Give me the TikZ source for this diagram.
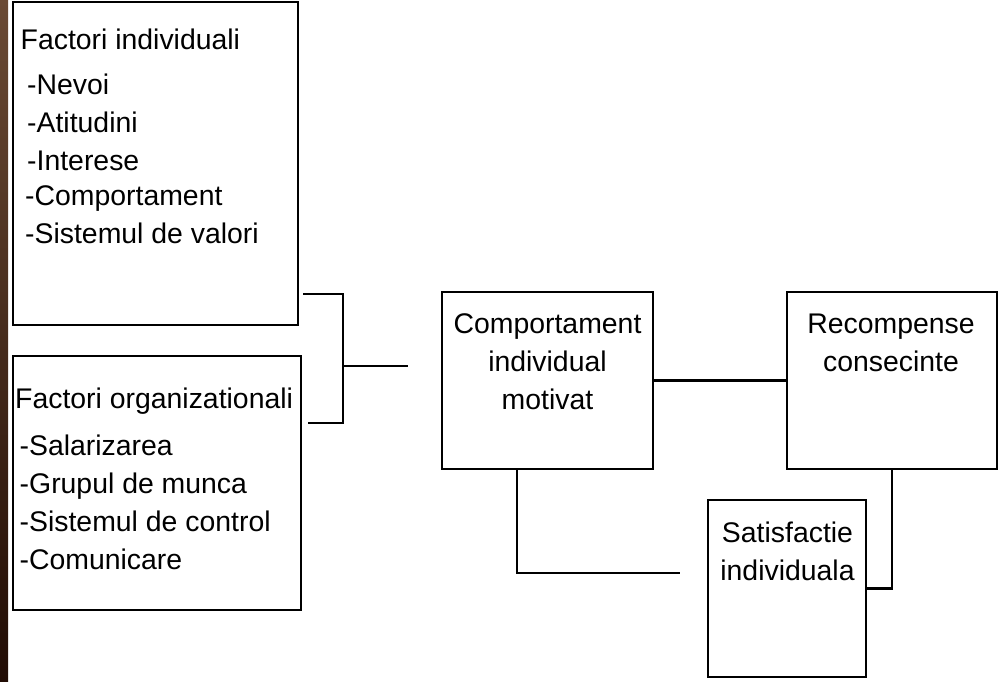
\documentclass[tikz,border=0pt]{standalone}
\usepackage{fontspec}
\setmainfont{Liberation Sans}
\usetikzlibrary{calc}

\definecolor{woodlight}{RGB}{106,74,52}
\definecolor{wooddark}{RGB}{33,12,4}

\tikzset{
  blok/.style = {draw, line width = 2.2pt, inner sep = 0pt},
  txt/.style = {inner sep = 0pt, font = \fontsize{28.4}{38}\selectfont},
  link/.style = {line width = 2.2pt}
}

\begin{document}
\begin{tikzpicture}[x = 1pt, y = -1pt]
  \useasboundingbox (0, 0) rectangle (999, 682);
  \shade[top color = woodlight, middle color = wooddark, bottom color = wooddark]
  (0, 0) rectangle (8, 682);

  % boxes
  \node[blok, minimum width = 285, minimum height = 323] (indiv) at (155.5, 163.5) {};
  \node[blok, minimum width = 288, minimum height = 254] (organiz) at (157, 483) {};
  \node[blok, minimum width = 211, minimum height = 177] (motiv) at (547.5, 380.5) {};
  \node[blok, minimum width = 210, minimum height = 177] (recomp) at (892, 380.5) {};
  \node[blok, minimum width = 158, minimum height = 177] (satisf) at (787, 588.5) {};

  % texts
  \node[txt, anchor = north west, align = left] (indivtext) at (20.5, 28.5)
  {Factori individuali\\[7pt]
    \hspace*{6.5pt}-Nevoi\\
    \hspace*{6.5pt}-Atitudini\\
    \hspace*{6.5pt}-Interese\\[-3pt]
    \hspace*{4.5pt}-Comportament\\
    \hspace*{4.5pt}-Sistemul de valori};
  \node[txt, anchor = north west, align = left] (organiztext) at (15, 388)
  {Factori organizationali\\[9pt]
    \hspace*{4.5pt}-Salarizarea\\
    \hspace*{4.5pt}-Grupul de munca\\
    \hspace*{4.5pt}-Sistemul de control\\
    \hspace*{4.5pt}-Comunicare};
  \node[txt, anchor = north, align = center] (motivtext) at (547.5, 313.5)
  {Comportament\\individual\\motivat};
  \node[txt, anchor = north, align = center] (recomptext) at (891, 313.5)
  {Recompense\\consecinte};
  \node[txt, anchor = north, align = center] (satisftext) at (787.5, 522)
  {Satisfactie\\individuala};

  % connectors
  \coordinate (fork) at (343, 366);
  \draw[link] ([xshift = 4pt, yshift = 32pt]indiv.south east) -| (fork)
  |- ([xshift = 6pt, yshift = -68pt]organiz.north east);
  \draw[link] (fork) -- ([xshift = -33pt]motiv.west |- fork);
  \draw[link] (motiv) -- (recomp);
  \draw[link] ([xshift = -30.5pt]motiv.south)
  |- ([xshift = -27pt, yshift = 15.5pt]satisf.west);
  \draw[link] (recomp.south) |- (satisf.east);
\end{tikzpicture}
\end{document}
